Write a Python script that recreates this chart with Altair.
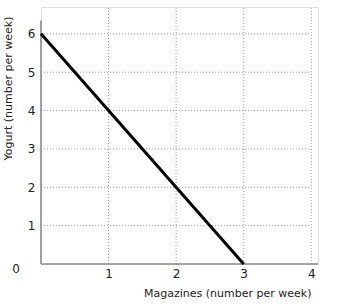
import altair as alt
import pandas as pd

# data
line_x = [0, 3]
line_y = [6, 0]
x_grid = [1, 2, 3, 4]
y_grid = [1, 2, 3, 4, 5, 6]
x_ticks = [1, 2, 3, 4]
y_ticks = [1, 2, 3, 4, 5, 6]
X_MAX = 4.1
Y_MAX = 6.7
Y_AXIS_TOP = 6.35

FONT = "DejaVu Sans"

xs = alt.Scale(domain=[0, X_MAX], nice=False, zero=False)
ys = alt.Scale(domain=[0, Y_MAX], nice=False, zero=False)

line_df = pd.DataFrame({"x": line_x, "y": line_y})
vgrid_df = pd.DataFrame({"x": x_grid, "y0": [0] * len(x_grid), "y1": [Y_MAX] * len(x_grid)})
hgrid_df = pd.DataFrame({"y": y_grid, "x0": [0] * len(y_grid), "x1": [x_grid[-1]] * len(y_grid)})

grid_style = dict(color="#9a9a9a", strokeDash=[1, 2], strokeWidth=1)

vgrid = alt.Chart(vgrid_df).mark_rule(**grid_style).encode(
    x=alt.X("x:Q", scale=xs,
            axis=alt.Axis(values=x_ticks, domain=False, grid=False, ticks=False,
                          labelFont=FONT, labelFontSize=12, labelColor="#222",
                          labelPadding=4, format="d",
                          title="Magazines (number per week)", titleFont=FONT,
                          titleFontSize=11, titleFontWeight="normal", titleColor="#222",
                          titleAnchor="end", titleAlign="right", titleBaseline="middle",
                          titleX=270, titleY=29)),
    y=alt.Y("y0:Q", scale=ys,
            axis=alt.Axis(values=y_ticks, domain=False, grid=False, ticks=False,
                          labelFont=FONT, labelFontSize=12, labelColor="#222",
                          labelPadding=6, format="d",
                          title="Yogurt (number per week)", titleFont=FONT,
                          titleFontSize=11, titleFontWeight="normal", titleColor="#222",
                          titleAngle=-90, titleAlign="center", titleBaseline="middle",
                          titleX=-33, titleY=81)),
    y2="y1:Q",
)

hgrid = alt.Chart(hgrid_df).mark_rule(**grid_style).encode(
    y=alt.Y("y:Q", scale=ys), x=alt.X("x0:Q", scale=xs), x2="x1:Q"
)

axis_df = pd.DataFrame({"x0": [0, 0], "x1": [X_MAX, 0], "y0": [0, 0], "y1": [0, Y_AXIS_TOP]})
axes = alt.Chart(axis_df).mark_rule(color="#8a8a8a", strokeWidth=1.6).encode(
    x=alt.X("x0:Q", scale=xs), x2="x1:Q", y=alt.Y("y0:Q", scale=ys), y2="y1:Q"
)

origin = alt.Chart(pd.DataFrame({"x": [0], "y": [0], "t": ["0"]})).mark_text(
    font=FONT, fontSize=12, color="#222", dx=-25, dy=5
).encode(x=alt.X("x:Q", scale=xs), y=alt.Y("y:Q", scale=ys), text="t:N")

line = alt.Chart(line_df).mark_line(color="black", strokeWidth=3).encode(
    x=alt.X("x:Q", scale=xs), y=alt.Y("y:Q", scale=ys)
)

chart = alt.layer(vgrid, hgrid, axes, line, origin).properties(
    width=277, height=257,
    autosize=alt.AutoSizeParams(type="none"),
    padding={"left": 41, "top": 7, "right": 25, "bottom": 42},
).configure_view(stroke=None).configure(background="white")

chart.save("out.html", embed_options={"renderer": "svg", "actions": False})
